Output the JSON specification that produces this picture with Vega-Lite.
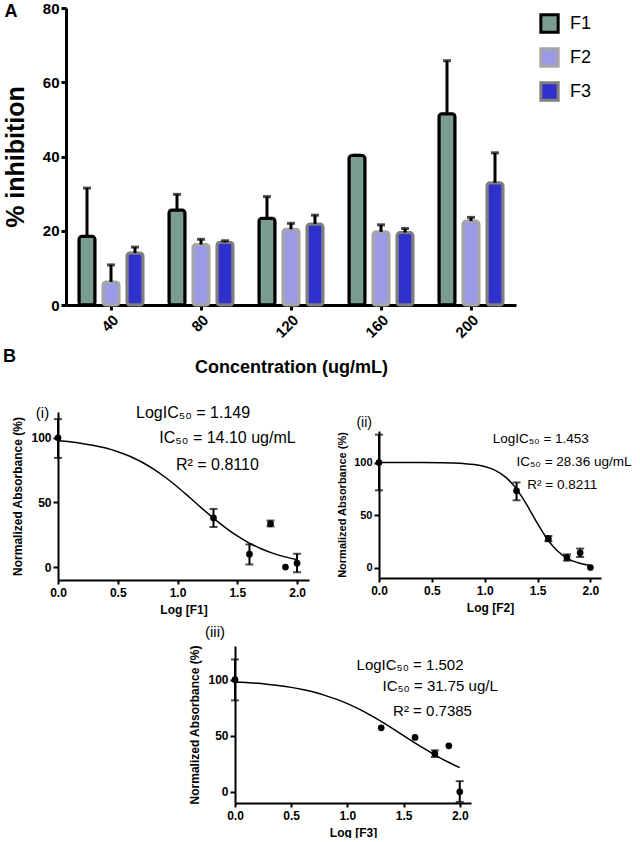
{
  "$schema": "https://vega.github.io/schema/vega-lite/v6.json",
  "padding": {"left": 2, "top": 1, "right": 0, "bottom": 0},
  "background": "white",
  "config": {
    "font": "Liberation Sans",
    "view": {"stroke": null},
    "text": {"font": "Liberation Sans", "color": "black"},
    "axis": {"domainColor": "black", "tickColor": "black", "labelColor": "black", "titleColor": "black", "grid": false, "labelFont": "Liberation Sans", "titleFont": "Liberation Sans", "labelFontWeight": "bold", "titleFontWeight": "bold", "labelFlush": false}
  },
  "columns": 1,
  "align": "none",
  "spacing": 9,
  "resolve": {"scale": {"fill": "independent", "stroke": "independent"}},
  "concat": [
    {
      "columns": 1,
      "align": "none",
      "spacing": -29,
      "resolve": {"scale": {"fill": "independent", "stroke": "independent"}},
      "concat": [
        {
          "width": 458,
          "height": 297,
          "layer": [
            {
              "data": {"values": [
                {"conc": "40", "series": "F1", "value": 18.5, "err": 31.5},
                {"conc": "80", "series": "F1", "value": 25.6, "err": 29.8},
                {"conc": "120", "series": "F1", "value": 23.4, "err": 29.2},
                {"conc": "160", "series": "F1", "value": 40.3, "err": 40.4},
                {"conc": "200", "series": "F1", "value": 51.5, "err": 65.8},
                {"conc": "40", "series": "F2", "value": 6.2, "err": 10.8},
                {"conc": "80", "series": "F2", "value": 16.3, "err": 17.7},
                {"conc": "120", "series": "F2", "value": 20.4, "err": 22.0},
                {"conc": "160", "series": "F2", "value": 19.7, "err": 21.6},
                {"conc": "200", "series": "F2", "value": 22.6, "err": 23.6},
                {"conc": "40", "series": "F3", "value": 14.0, "err": 15.6},
                {"conc": "80", "series": "F3", "value": 16.9, "err": 17.3},
                {"conc": "120", "series": "F3", "value": 21.8, "err": 24.2},
                {"conc": "160", "series": "F3", "value": 19.5, "err": 20.6},
                {"conc": "200", "series": "F3", "value": 32.9, "err": 41.0}
              ]},
              "layer": [
                {
                  "mark": {"type": "bar", "strokeWidth": 3, "cornerRadius": 3},
                  "encoding": {
                    "x": {"field": "conc", "type": "ordinal", "sort": ["40", "80", "120", "160", "200"], "scale": {"paddingInner": 0, "paddingOuter": 0, "range": [8, 458]},
                      "axis": {"title": "Concentration (ug/mL)", "labelAngle": -45, "labelFontSize": 15, "titleFontSize": 18, "domainWidth": 3, "tickWidth": 3, "tickSize": 5, "labelPadding": 2, "titlePadding": 18}},
                    "xOffset": {"field": "series", "type": "nominal", "sort": ["F1", "F2", "F3"], "scale": {"paddingInner": 0.33, "paddingOuter": 0.54}},
                    "y": {"field": "value", "type": "quantitative", "scale": {"domain": [0, 80], "nice": false},
                      "axis": {"title": "% inhibition", "values": [0, 20, 40, 60, 80], "offset": -8, "labelFontSize": 15, "titleFontSize": 25, "domainWidth": 3, "tickWidth": 3, "tickSize": 5, "labelPadding": 2, "titlePadding": 14}},
                    "fill": {"field": "series", "type": "nominal", "scale": {"domain": ["F1", "F2", "F3"], "range": ["#7a9d90", "#9a9ae6", "#3030cc"]},
                      "legend": {"title": null, "orient": "right", "offset": 18, "padding": 5, "symbolType": "square", "symbolSize": 300, "symbolStrokeWidth": 3, "labelFontSize": 18, "labelFont": "Liberation Sans", "labelColor": "black", "rowPadding": 3, "labelOffset": 10}},
                    "stroke": {"field": "series", "type": "nominal", "scale": {"domain": ["F1", "F2", "F3"], "range": ["#000000", "#a6a6a6", "#7f7f7f"]},
                      "legend": {"title": null, "orient": "right", "offset": 18, "padding": 5, "symbolType": "square", "symbolSize": 300, "symbolStrokeWidth": 3, "labelFontSize": 18, "labelFont": "Liberation Sans", "labelColor": "black", "rowPadding": 3, "labelOffset": 10}}
                  }
                },
                {
                  "mark": {"type": "rule", "strokeWidth": 3, "color": "black"},
                  "encoding": {
                    "x": {"field": "conc", "type": "ordinal", "sort": ["40", "80", "120", "160", "200"]},
                    "xOffset": {"field": "series", "type": "nominal", "sort": ["F1", "F2", "F3"]},
                    "y": {"field": "value", "type": "quantitative"},
                    "y2": {"field": "err"}
                  }
                },
                {
                  "mark": {"type": "tick", "orient": "horizontal", "thickness": 3, "size": 8, "color": "black"},
                  "encoding": {
                    "x": {"field": "conc", "type": "ordinal", "sort": ["40", "80", "120", "160", "200"]},
                    "xOffset": {"field": "series", "type": "nominal", "sort": ["F1", "F2", "F3"]},
                    "y": {"field": "err", "type": "quantitative"}
                  }
                }
              ]
            },
            {
              "data": {"values": [{"t": "A", "px": -10.26, "py": 78.8}]},
              "mark": {"type": "text", "fontSize": 18, "fontWeight": "bold"},
              "encoding": {
                "x": {"field": "px", "type": "quantitative", "scale": {"domain": [0, 100]}, "axis": null},
                "y": {"field": "py", "type": "quantitative", "scale": {"domain": [0, 80]}, "axis": null},
                "text": {"field": "t"}
              }
            }
          ],
          "resolve": {"scale": {"x": "independent", "y": "independent"}}
        },
        {
          "align": "none",
          "spacing": 27,
          "concat": [
            {
              "width": 251,
              "height": 168,
              "layer": [
                {
                  "data": {"values": [
                    {"x": 0, "y": 97.7}, {"x": 0.1, "y": 96.9}, {"x": 0.2, "y": 95.7}, {"x": 0.3, "y": 94.1}, {"x": 0.4, "y": 92.1},
                    {"x": 0.5, "y": 89.3}, {"x": 0.6, "y": 85.8}, {"x": 0.7, "y": 81.3}, {"x": 0.8, "y": 75.8}, {"x": 0.9, "y": 69.3},
                    {"x": 1.0, "y": 62.0}, {"x": 1.1, "y": 54.0}, {"x": 1.2, "y": 45.8}, {"x": 1.3, "y": 37.9}, {"x": 1.4, "y": 30.6},
                    {"x": 1.5, "y": 24.1}, {"x": 1.6, "y": 18.6}, {"x": 1.7, "y": 14.2}, {"x": 1.8, "y": 10.6}, {"x": 1.9, "y": 7.9}, {"x": 2.0, "y": 5.8}
                  ]},
                  "mark": {"type": "line", "color": "black", "strokeWidth": 1.5, "interpolate": "monotone"},
                  "encoding": {
                    "x": {"field": "x", "type": "quantitative", "scale": {"domain": [0, 2.1], "nice": false, "zero": false},
                      "axis": {"title": "Log [F1]", "values": [0, 0.5, 1, 1.5, 2], "format": ".1f", "labelFontSize": 12, "titleFontSize": 12, "domainWidth": 2, "tickWidth": 2, "tickSize": 4, "labelPadding": 3, "titlePadding": 6}},
                    "y": {"field": "y", "type": "quantitative", "scale": {"domain": [-10, 120], "nice": false},
                      "axis": {"title": "Normalized Absorbance (%)", "values": [0, 50, 100], "labelFontSize": 12, "titleFontSize": 12, "domainWidth": 2, "tickWidth": 2, "tickSize": 5, "labelPadding": 2, "titlePadding": 6}}
                  }
                },
                {
                  "data": {"values": [
                    {"x": 0, "y": 100, "lo": 84.5, "hi": 114.5},
                    {"x": 1.301, "y": 38, "lo": 31, "hi": 45},
                    {"x": 1.602, "y": 10, "lo": 2, "hi": 17.5},
                    {"x": 1.778, "y": 33.5, "lo": 31.5, "hi": 36},
                    {"x": 1.903, "y": 0},
                    {"x": 2.0, "y": 3, "lo": -4, "hi": 10.3}
                  ]},
                  "layer": [
                    {"transform": [{"filter": "isValid(datum.lo)"}], "mark": {"type": "rule", "strokeWidth": 2, "color": "black"},
                      "encoding": {"x": {"field": "x", "type": "quantitative"}, "y": {"field": "lo", "type": "quantitative"}, "y2": {"field": "hi"}}},
                    {"transform": [{"filter": "isValid(datum.lo)"}], "mark": {"type": "tick", "orient": "horizontal", "size": 8, "thickness": 2, "color": "black"},
                      "encoding": {"x": {"field": "x", "type": "quantitative"}, "y": {"field": "lo", "type": "quantitative"}}},
                    {"transform": [{"filter": "isValid(datum.lo)"}], "mark": {"type": "tick", "orient": "horizontal", "size": 8, "thickness": 2, "color": "black"},
                      "encoding": {"x": {"field": "x", "type": "quantitative"}, "y": {"field": "hi", "type": "quantitative"}}},
                    {"mark": {"type": "point", "filled": true, "size": 45, "color": "black", "opacity": 1},
                      "encoding": {"x": {"field": "x", "type": "quantitative"}, "y": {"field": "y", "type": "quantitative"}}}
                  ]
                },
                {
                  "data": {"values": [
                    {"t": "LogIC₅₀ = 1.149", "tx": 0.653, "ty": 119},
                    {"t": "IC₅₀ = 14.10 ug/mL", "tx": 0.848, "ty": 99.9},
                    {"t": "R² = 0.8110", "tx": 0.987, "ty": 79.2}
                  ]},
                  "mark": {"type": "text", "align": "left", "baseline": "middle", "fontSize": 16},
                  "encoding": {"x": {"field": "tx", "type": "quantitative"}, "y": {"field": "ty", "type": "quantitative"}, "text": {"field": "t"}}
                },
                {
                  "data": {"values": [{"t": "(i)", "tx": -0.13, "ty": 119.2}]},
                  "mark": {"type": "text", "align": "center", "baseline": "middle", "fontSize": 15},
                  "encoding": {"x": {"field": "tx", "type": "quantitative"}, "y": {"field": "ty", "type": "quantitative"}, "text": {"field": "t"}}
                },
                {
                  "data": {"values": [{"t": "B", "tx": -0.406, "ty": 162.2}]},
                  "mark": {"type": "text", "align": "center", "baseline": "middle", "fontSize": 18, "fontWeight": "bold"},
                  "encoding": {"x": {"field": "tx", "type": "quantitative"}, "y": {"field": "ty", "type": "quantitative"}, "text": {"field": "t"}}
                }
              ]
            },
            {
              "columns": 1,
              "align": "none",
              "spacing": 0,
              "concat": [
                {
                  "width": 10,
                  "height": 4,
                  "data": {"values": [{"v": 0}]},
                  "mark": {"type": "point", "opacity": 0, "size": 1},
                  "encoding": {}
                },
                {
                  "width": 222,
                  "height": 147,
                  "layer": [
                    {
                      "data": {"values": [
                        {"x": 0, "y": 100}, {"x": 0.2, "y": 100}, {"x": 0.4, "y": 99.9}, {"x": 0.6, "y": 99.8}, {"x": 0.7, "y": 99.5},
                        {"x": 0.8, "y": 99.0}, {"x": 0.9, "y": 98.1}, {"x": 1.0, "y": 96.2}, {"x": 1.1, "y": 92.5}, {"x": 1.2, "y": 85.8},
                        {"x": 1.25, "y": 80.9}, {"x": 1.3, "y": 74.8}, {"x": 1.35, "y": 67.5}, {"x": 1.4, "y": 59.3}, {"x": 1.45, "y": 50.5},
                        {"x": 1.5, "y": 41.7}, {"x": 1.55, "y": 33.4}, {"x": 1.6, "y": 26.0}, {"x": 1.65, "y": 19.8}, {"x": 1.7, "y": 14.7},
                        {"x": 1.75, "y": 10.8}, {"x": 1.8, "y": 7.8}, {"x": 1.85, "y": 5.6}, {"x": 1.9, "y": 4.0}, {"x": 1.95, "y": 2.8}, {"x": 2.0, "y": 2.0}
                      ]},
                      "mark": {"type": "line", "color": "black", "strokeWidth": 1.5, "interpolate": "monotone"},
                      "encoding": {
                        "x": {"field": "x", "type": "quantitative", "scale": {"domain": [0, 2.1], "nice": false, "zero": false},
                          "axis": {"title": "Log [F2]", "values": [0, 0.5, 1, 1.5, 2], "format": ".1f", "labelFontSize": 12, "titleFontSize": 12, "domainWidth": 2, "tickWidth": 2, "tickSize": 4, "labelPadding": 3, "titlePadding": 6}},
                        "y": {"field": "y", "type": "quantitative", "scale": {"domain": [-10, 130], "nice": false},
                          "axis": {"title": "Normalized Absorbance (%)", "values": [0, 50, 100], "labelFontSize": 11, "titleFontSize": 11, "domainWidth": 2, "tickWidth": 2, "tickSize": 5, "labelPadding": 2, "titlePadding": 6}}
                      }
                    },
                    {
                      "data": {"values": [
                        {"x": 0, "y": 100, "lo": 73.5, "hi": 126.5},
                        {"x": 1.301, "y": 73, "lo": 64, "hi": 81},
                        {"x": 1.602, "y": 27.5, "lo": 25, "hi": 30},
                        {"x": 1.778, "y": 9.5, "lo": 6.5, "hi": 12.5},
                        {"x": 1.903, "y": 14, "lo": 10, "hi": 18},
                        {"x": 2.0, "y": 0}
                      ]},
                      "layer": [
                        {"transform": [{"filter": "isValid(datum.lo)"}], "mark": {"type": "rule", "strokeWidth": 2, "color": "black"},
                          "encoding": {"x": {"field": "x", "type": "quantitative"}, "y": {"field": "lo", "type": "quantitative"}, "y2": {"field": "hi"}}},
                        {"transform": [{"filter": "isValid(datum.lo)"}], "mark": {"type": "tick", "orient": "horizontal", "size": 8, "thickness": 2, "color": "black"},
                          "encoding": {"x": {"field": "x", "type": "quantitative"}, "y": {"field": "lo", "type": "quantitative"}}},
                        {"transform": [{"filter": "isValid(datum.lo)"}], "mark": {"type": "tick", "orient": "horizontal", "size": 8, "thickness": 2, "color": "black"},
                          "encoding": {"x": {"field": "x", "type": "quantitative"}, "y": {"field": "hi", "type": "quantitative"}}},
                        {"mark": {"type": "point", "filled": true, "size": 45, "color": "black", "opacity": 1},
                          "encoding": {"x": {"field": "x", "type": "quantitative"}, "y": {"field": "y", "type": "quantitative"}}}
                      ]
                    },
                    {
                      "data": {"values": [
                        {"t": "LogIC₅₀ = 1.453", "tx": 1.075, "ty": 122.7},
                        {"t": "IC₅₀ = 28.36 ug/mL", "tx": 1.30, "ty": 100.5},
                        {"t": "R² = 0.8211", "tx": 1.403, "ty": 78.3}
                      ]},
                      "mark": {"type": "text", "align": "left", "baseline": "middle", "fontSize": 13.5},
                      "encoding": {"x": {"field": "tx", "type": "quantitative"}, "y": {"field": "ty", "type": "quantitative"}, "text": {"field": "t"}}
                    },
                    {
                      "data": {"values": [{"t": "(ii)", "tx": -0.14, "ty": 137.6}]},
                      "mark": {"type": "text", "align": "center", "baseline": "middle", "fontSize": 14},
                      "encoding": {"x": {"field": "tx", "type": "quantitative"}, "y": {"field": "ty", "type": "quantitative"}, "text": {"field": "t"}}
                    }
                  ]
                }
              ]
            }
          ]
        }
      ]
    },
    {
      "align": "none",
      "spacing": 20,
      "concat": [
        {
          "width": 109,
          "height": 10,
          "data": {"values": [{"v": 0}, {"v": 1}]},
          "mark": {"type": "point", "opacity": 0, "size": 1},
          "encoding": {"x": {"field": "v", "type": "quantitative", "scale": {"domain": [0, 1]}, "axis": null}}
        },
        {
          "width": 236,
          "height": 157,
          "layer": [
            {
              "data": {"values": [
                {"x": 0, "y": 98.0}, {"x": 0.1, "y": 97.4}, {"x": 0.2, "y": 96.7}, {"x": 0.3, "y": 95.7}, {"x": 0.4, "y": 94.6},
                {"x": 0.5, "y": 93.1}, {"x": 0.6, "y": 91.2}, {"x": 0.7, "y": 88.9}, {"x": 0.8, "y": 86.0}, {"x": 0.9, "y": 82.6},
                {"x": 1.0, "y": 78.6}, {"x": 1.1, "y": 73.9}, {"x": 1.2, "y": 68.6}, {"x": 1.3, "y": 62.8}, {"x": 1.4, "y": 56.6},
                {"x": 1.5, "y": 50.1}, {"x": 1.6, "y": 43.7}, {"x": 1.7, "y": 37.5}, {"x": 1.8, "y": 31.6}, {"x": 1.9, "y": 26.3}, {"x": 2.0, "y": 21.6}
              ]},
              "mark": {"type": "line", "color": "black", "strokeWidth": 1.5, "interpolate": "monotone"},
              "encoding": {
                "x": {"field": "x", "type": "quantitative", "scale": {"domain": [0, 2.1], "nice": false, "zero": false},
                  "axis": {"title": "Log [F3]", "values": [0, 0.5, 1, 1.5, 2], "format": ".1f", "labelFontSize": 12, "titleFontSize": 12, "domainWidth": 2, "tickWidth": 2, "tickSize": 4, "labelPadding": 3, "titlePadding": 6}},
                "y": {"field": "y", "type": "quantitative", "scale": {"domain": [-10, 130], "nice": false},
                  "axis": {"title": "Normalized Absorbance (%)", "values": [0, 50, 100], "labelFontSize": 12, "titleFontSize": 12, "domainWidth": 2, "tickWidth": 2, "tickSize": 5, "labelPadding": 2, "titlePadding": 6}}
              }
            },
            {
              "data": {"values": [
                {"x": 0, "y": 100, "lo": 81.5, "hi": 118},
                {"x": 1.301, "y": 57},
                {"x": 1.602, "y": 48.5},
                {"x": 1.778, "y": 34, "lo": 31, "hi": 37},
                {"x": 1.903, "y": 41},
                {"x": 2.0, "y": 0, "lo": -9, "hi": 9.5}
              ]},
              "layer": [
                {"transform": [{"filter": "isValid(datum.lo)"}], "mark": {"type": "rule", "strokeWidth": 2, "color": "black"},
                  "encoding": {"x": {"field": "x", "type": "quantitative"}, "y": {"field": "lo", "type": "quantitative"}, "y2": {"field": "hi"}}},
                {"transform": [{"filter": "isValid(datum.lo)"}], "mark": {"type": "tick", "orient": "horizontal", "size": 8, "thickness": 2, "color": "black"},
                  "encoding": {"x": {"field": "x", "type": "quantitative"}, "y": {"field": "lo", "type": "quantitative"}}},
                {"transform": [{"filter": "isValid(datum.lo)"}], "mark": {"type": "tick", "orient": "horizontal", "size": 8, "thickness": 2, "color": "black"},
                  "encoding": {"x": {"field": "x", "type": "quantitative"}, "y": {"field": "hi", "type": "quantitative"}}},
                {"mark": {"type": "point", "filled": true, "size": 45, "color": "black", "opacity": 1},
                  "encoding": {"x": {"field": "x", "type": "quantitative"}, "y": {"field": "y", "type": "quantitative"}}}
              ]
            },
            {
              "data": {"values": [
                {"t": "LogIC₅₀ = 1.502", "tx": 1.082, "ty": 113},
                {"t": "IC₅₀ = 31.75 ug/L", "tx": 1.313, "ty": 94},
                {"t": "R² = 0.7385", "tx": 1.407, "ty": 72}
              ]},
              "mark": {"type": "text", "align": "left", "baseline": "middle", "fontSize": 15},
              "encoding": {"x": {"field": "tx", "type": "quantitative"}, "y": {"field": "ty", "type": "quantitative"}, "text": {"field": "t"}}
            },
            {
              "data": {"values": [{"t": "(iii)", "tx": -0.178, "ty": 142.5}]},
              "mark": {"type": "text", "align": "center", "baseline": "middle", "fontSize": 15},
              "encoding": {"x": {"field": "tx", "type": "quantitative"}, "y": {"field": "ty", "type": "quantitative"}, "text": {"field": "t"}}
            }
          ]
        }
      ]
    }
  ]
}
